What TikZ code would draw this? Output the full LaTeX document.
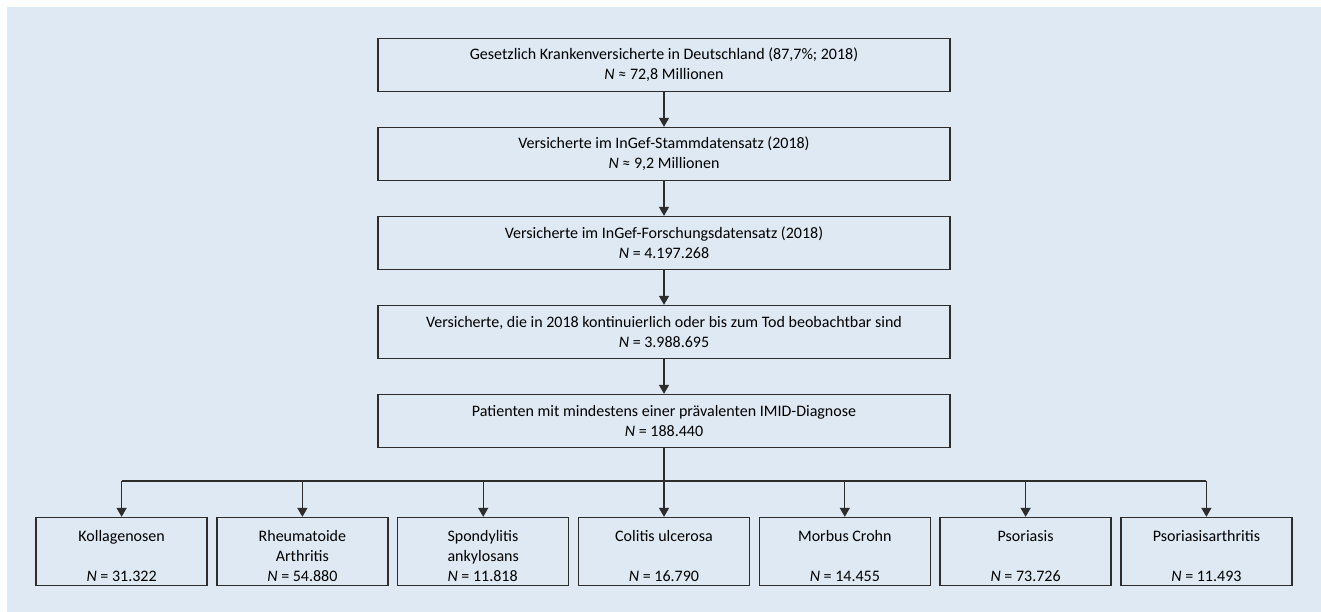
\documentclass[tikz,border=0pt]{standalone}
\usepackage{fontspec}
\setmainfont{Carlito}
\usetikzlibrary{arrows.meta}
\definecolor{bgblue}{RGB}{223,233,243}
\definecolor{linegray}{RGB}{45,45,45}
\newcommand{\topstrut}{\rule{0pt}{20pt}}
\begin{document}
\begin{tikzpicture}[x=1pt,y=-1pt,
  every node/.style={font=\fontsize{16}{20}\selectfont, text=black},
  topbox/.style={draw=linegray, line width=1.3pt, minimum width=572pt, minimum height=53pt, align=center, inner sep=0pt},
  botbox/.style={draw=linegray, line width=1.3pt, minimum width=171pt, minimum height=68pt, align=center, inner sep=0pt},
  arr/.style={draw=linegray, line width=1.3pt, -{Triangle[length=9pt,width=10pt]}},
  conn/.style={draw=linegray, line width=1.3pt}]
\useasboundingbox (0,0) rectangle (1321,612);
\fill[bgblue] (7,7) rectangle (1321,612);

\node[topbox] (t1) at (664,65) {Gesetzlich Krankenversicherte in Deutschland (87,7\%; 2018)\\\textit{N} ≈ 72,8 Millionen};
\node[topbox] (t2) at (664,154) {Versicherte im InGef-Stammdatensatz (2018)\\\textit{N} ≈ 9,2 Millionen};
\node[topbox] (t3) at (664,243) {Versicherte im InGef-Forschungsdatensatz (2018)\\\textit{N} = 4.197.268};
\node[topbox] (t4) at (664,332) {Versicherte, die in 2018 kontinuierlich oder bis zum Tod beobachtbar sind\\\textit{N} = 3.988.695};
\node[topbox] (t5) at (664,421) {Patienten mit mindestens einer prävalenten IMID-Diagnose\\\textit{N} = 188.440};

\node[botbox] (b1) at (121.6,551.5) {\topstrut Kollagenosen\\[20pt]\textit{N} = 31.322};
\node[botbox] (b2) at (302.4,551.5) {\topstrut Rheumatoide\\Arthritis\\\textit{N} = 54.880};
\node[botbox, align=left] (b3) at (483.2,551.5) {\topstrut Spondylitis\\ankylosans\\\textit{N} = 11.818};
\node[botbox] (b4) at (664,551.5) {\topstrut Colitis ulcerosa\\[20pt]\textit{N} = 16.790};
\node[botbox] (b5) at (844.8,551.5) {\topstrut Morbus Crohn\\[20pt]\textit{N} = 14.455};
\node[botbox] (b6) at (1025.6,551.5) {\topstrut Psoriasis\\[20pt]\textit{N} = 73.726};
\node[botbox] (b7) at (1206.4,551.5) {\topstrut Psoriasisarthritis\\[20pt]\textit{N} = 11.493};

\draw[arr] (t1) -- (t2);
\draw[arr] (t2) -- (t3);
\draw[arr] (t3) -- (t4);
\draw[arr] (t4) -- (t5);

\coordinate (hy) at (0,481);
\draw[conn] (b1.north |- hy) -- (b7.north |- hy);
\draw[arr] (t5.south) -- (b4.north);
\foreach \b in {b1,b2,b3,b5,b6,b7}{
  \draw[arr] (\b.north |- hy) -- (\b.north);
}
\end{tikzpicture}
\end{document}
